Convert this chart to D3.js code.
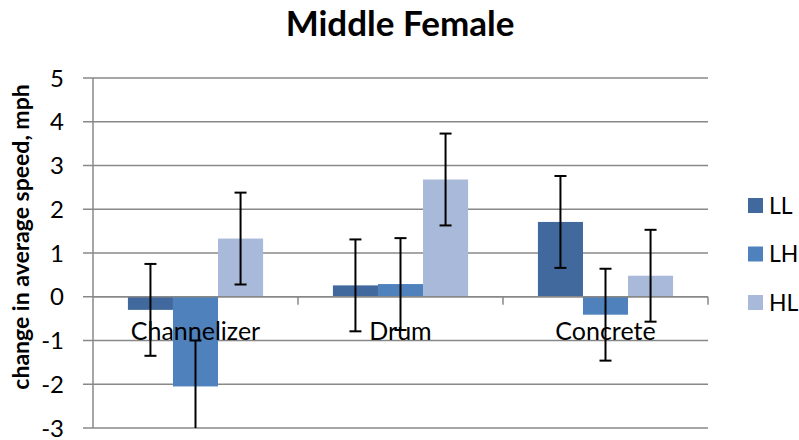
<!DOCTYPE html>
<html>
<head>
<meta charset="utf-8">
<script src="https://cdn.jsdelivr.net/npm/d3@7"></script>
<style>
  body { margin: 0; background: #fff; }
  text { font-family: Lato, "Open Sans", sans-serif; }
</style>
</head>
<body>
<div id="chart"></div>
<script>
(function () {

// data
const categories = ["Channelizer", "Drum", "Concrete"];
const seriesNames = ["LL", "LH", "HL"];
const LL = [-0.3, 0.26, 1.71];
const LH = [-2.05, 0.29, -0.41];
const HL = [1.33, 2.68, 0.48];
const errLL = [1.05, 1.05, 1.05];
const errLH = [1.05, 1.05, 1.05];
const errHL = [1.05, 1.05, 1.05];
const yTicks = [-3, -2, -1, 0, 1, 2, 3, 4, 5];

const colors = ["#41699d", "#4f81bd", "#a9b9d9"];
const values = [LL, LH, HL];
const errors = [errLL, errLH, errHL];

const width = 799, height = 440;
const plot = {left: 93, right: 708, top: 78, bottom: 428};

const svg = d3.select("#chart").append("svg")
    .attr("width", width)
    .attr("height", height);

const y = d3.scaleLinear().domain([-3, 5]).range([plot.bottom, plot.top]);
const x = d3.scaleBand().domain(categories).range([plot.left, plot.right]);
// inner band for the 3 bars of a group
const xs = d3.scaleBand().domain(seriesNames)
    .range([0, x.bandwidth()]).paddingOuter(0.775);

// gridlines
svg.append("g").selectAll("line")
  .data(yTicks)
  .join("line")
    .attr("x1", plot.left - 10).attr("x2", plot.right)
    .attr("y1", d => y(d)).attr("y2", d => y(d))
    .attr("stroke", "#888").attr("stroke-width", 1.5);

// y axis line
svg.append("line")
    .attr("x1", plot.left).attr("x2", plot.left)
    .attr("y1", plot.top).attr("y2", plot.bottom)
    .attr("stroke", "#888").attr("stroke-width", 1.5);

// y tick labels
svg.append("g").selectAll("text")
  .data(yTicks)
  .join("text")
    .attr("x", 64).attr("y", d => y(d))
    .attr("dy", "0.36em")
    .attr("text-anchor", "end")
    .attr("font-size", 24)
    .text(d => d);

// bars
const rows = [];
seriesNames.forEach((s, i) => {
  categories.forEach((c, j) => {
    rows.push({series: s, cat: c, value: values[i][j], err: errors[i][j], color: colors[i]});
  });
});

svg.append("g").selectAll("rect")
  .data(rows)
  .join("rect")
    .attr("x", d => x(d.cat) + xs(d.series))
    .attr("width", xs.bandwidth())
    .attr("y", d => y(Math.max(0, d.value)))
    .attr("height", d => Math.abs(y(d.value) - y(0)))
    .attr("fill", d => d.color);

// category axis at zero
svg.append("line")
    .attr("x1", plot.left).attr("x2", plot.right)
    .attr("y1", y(0)).attr("y2", y(0))
    .attr("stroke", "#888").attr("stroke-width", 1.5);

svg.append("g").selectAll("line")
  .data(categories.map(c => x(c) + x.bandwidth()))
  .join("line")
    .attr("x1", d => d).attr("x2", d => d)
    .attr("y1", y(0)).attr("y2", y(0) + 8)
    .attr("stroke", "#888").attr("stroke-width", 1.5);

svg.append("g").selectAll("text")
  .data(categories)
  .join("text")
    .attr("x", d => x(d) + x.bandwidth() / 2)
    .attr("y", y(0) + 43)
    .attr("text-anchor", "middle")
    .attr("font-size", 25)
    .text(d => d);

// error bars, clipped to the plot
svg.append("clipPath").attr("id", "clip")
  .append("rect")
    .attr("x", plot.left).attr("y", plot.top)
    .attr("width", plot.right - plot.left).attr("height", plot.bottom - plot.top);

const eb = svg.append("g").attr("clip-path", "url(#clip)")
  .selectAll("g")
  .data(rows)
  .join("g")
    .attr("stroke", "#000").attr("stroke-width", 2);

const cx = d => x(d.cat) + xs(d.series) + xs.bandwidth() / 2;
eb.append("line")
    .attr("x1", cx).attr("x2", cx)
    .attr("y1", d => y(d.value + d.err)).attr("y2", d => y(d.value - d.err));
eb.append("line")
    .attr("x1", d => cx(d) - 6).attr("x2", d => cx(d) + 6)
    .attr("y1", d => y(d.value + d.err)).attr("y2", d => y(d.value + d.err));
eb.append("line")
    .attr("x1", d => cx(d) - 6).attr("x2", d => cx(d) + 6)
    .attr("y1", d => y(d.value - d.err)).attr("y2", d => y(d.value - d.err));

// title
svg.append("text")
    .attr("x", 400).attr("y", 36)
    .attr("text-anchor", "middle")
    .attr("font-size", 35)
    .attr("font-weight", "bold")
    .text("Middle Female");

// y axis title
svg.append("text")
    .attr("transform", "translate(29,237) rotate(-90)")
    .attr("text-anchor", "middle")
    .attr("font-size", 23)
    .attr("font-weight", "bold")
    .text("change in average speed, mph");

// legend
const legend = svg.append("g").selectAll("g")
  .data(seriesNames)
  .join("g")
    .attr("transform", (d, i) => "translate(748," + (198 + i * 48.5) + ")");
legend.append("rect")
    .attr("width", 15).attr("height", 15)
    .attr("fill", (d, i) => colors[i]);
legend.append("text")
    .attr("x", 21).attr("y", 7.5)
    .attr("dy", "0.36em")
    .attr("font-size", 23)
    .text(d => d);

})();
</script>
</body>
</html>
